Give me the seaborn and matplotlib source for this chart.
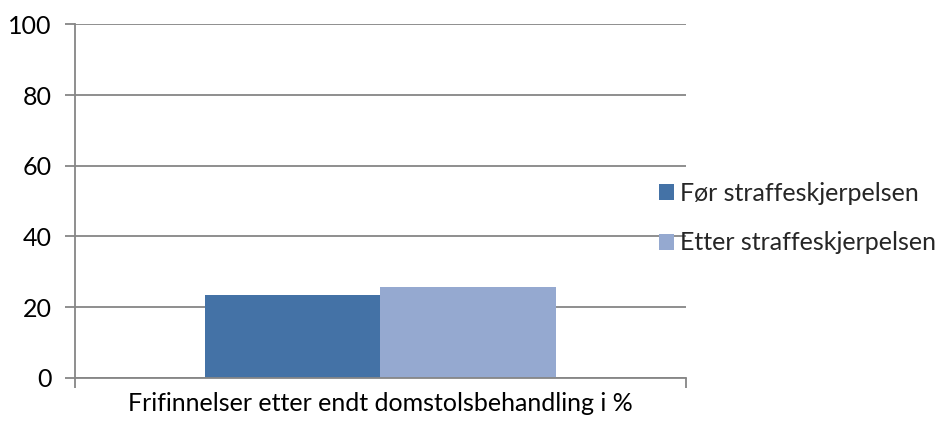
import matplotlib
matplotlib.use("Agg")
import matplotlib.pyplot as plt
import seaborn as sns
import pandas as pd

# Data
kategorier = ["Frifinnelser etter endt domstolsbehandling i %"]
perioder = ["Før straffeskjerpelsen", "Etter straffeskjerpelsen"]
verdier = [23.4, 25.7]
yticks = [0, 20, 40, 60, 80, 100]
farger = ["#4472A6", "#95A9D0"]

df = pd.DataFrame({
    "kategori": [kategorier[0]] * len(perioder),
    "periode": perioder,
    "verdi": verdier,
})

sns.set_theme(style="white")
plt.rcParams["font.family"] = ["Lato", "DejaVu Sans"]

fig = plt.figure(figsize=(9.35, 4.23), dpi=100)
ax = fig.add_axes([0.0802, 0.107, 0.6535, 0.8353])

sns.barplot(data=df, x="kategori", y="verdi", hue="periode", hue_order=perioder,
            palette=farger, saturation=1, width=0.573, gap=0, linewidth=0,
            ax=ax, legend=True)

grid_c = "#868686"
ax.set_xlim(-0.5, 0.5)
ax.set_ylim(0, 100)
ax.set_yticks(yticks)
ax.set_yticklabels([str(v) for v in yticks], fontsize=18, color="#000000")
ax.yaxis.grid(True, color=grid_c, linewidth=1.3)
ax.set_axisbelow(True)
ax.set_xlabel("")
ax.set_ylabel("")

for s in ["top", "right"]:
    ax.spines[s].set_visible(False)
for s in ["left", "bottom"]:
    ax.spines[s].set_color(grid_c)
    ax.spines[s].set_linewidth(1.3)

ax.tick_params(axis="y", which="major", left=True, length=7, width=1.3,
               color=grid_c, pad=10)
ax.tick_params(axis="x", which="major", length=0, labelsize=18, pad=10,
               labelcolor="#000000")
ax.set_xticks([-0.5, 0.5], minor=True)
ax.tick_params(axis="x", which="minor", bottom=True, length=7, width=1.3,
               color=grid_c)

handles, labels = ax.get_legend_handles_labels()
ax.legend(handles, labels, loc="center left", bbox_to_anchor=(0.705, 0.484),
          bbox_transform=fig.transFigure, frameon=False, fontsize=18,
          handlelength=0.6, handleheight=0.6, handletextpad=0.25,
          labelspacing=1.05, borderpad=0, borderaxespad=0)

fig.savefig("out.png", dpi=100, facecolor="white")
